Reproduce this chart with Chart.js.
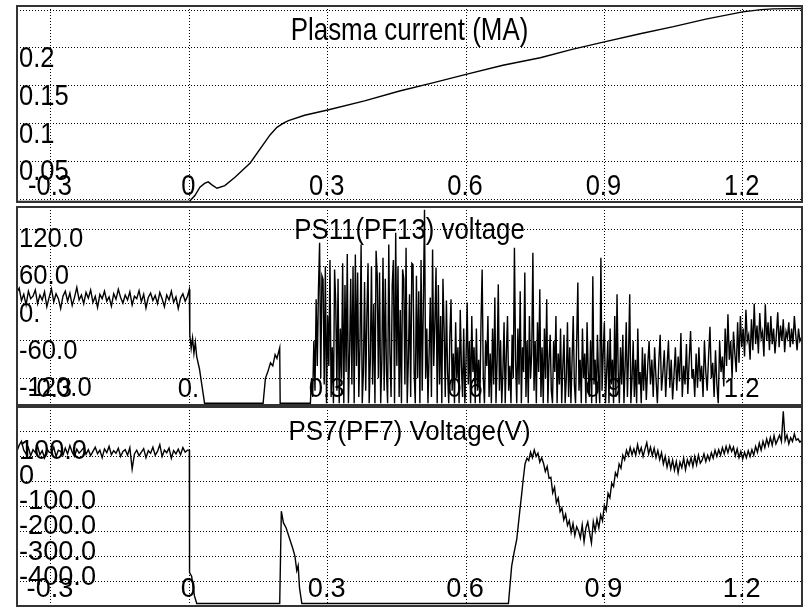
<!DOCTYPE html>
<html>
<head>
<meta charset="utf-8">
<title>Discharge waveforms</title>
<script src="https://cdn.jsdelivr.net/npm/chart.js@4.4.1/dist/chart.umd.min.js"></script>
<style>
  html, body { margin: 0; padding: 0; background: #fff; }
  body { width: 808px; height: 608px; position: relative; overflow: hidden; }
  canvas { position: absolute; left: 15px; }
</style>
</head>
<body>
<canvas id="ip" width="789" height="200" style="top:4px"></canvas>
<canvas id="ps11" width="789" height="202" style="top:205px"></canvas>
<canvas id="ps7" width="789" height="203" style="top:405px"></canvas>
<script>
// time axis (s)
var tMin = -0.3737, tMax = 1.3286;
var xTicks = [-0.3, 0, 0.3, 0.6, 0.9, 1.2];
var xLabels = ['-0.3', '0', '0.3', '0.6', '0.9', '1.2'];
var xLabelsDot = ['-0.3', '0.', '0.3', '0.6', '0.9', '1.2'];

// plasma current (MA)
var ipYTicks = [0.05, 0.1, 0.15, 0.2];
var ipYLabels = ['0.05', '0.1', '0.15', '0.2'];
var ipTime = [-0.374, 0, 0.012, 0.023, 0.033, 0.041, 0.049, 0.06, 0.077, 0.099, 0.132, 0.175, 0.19, 0.205, 0.215, 0.25,
  0.3, 0.38, 0.456, 0.53, 0.6, 0.68, 0.761, 0.83, 0.9, 0.98, 1.05, 1.12, 1.2, 1.24, 1.266, 1.3, 1.328];
var ipValue = [-0.003, -0.003, 0.005, 0.016, 0.021, 0.023, 0.019, 0.0146, 0.018, 0.029, 0.048, 0.085, 0.095, 0.101, 0.104, 0.111,
  0.118, 0.13, 0.143, 0.154, 0.165, 0.177, 0.187, 0.198, 0.208, 0.219, 0.228, 0.238, 0.2475, 0.2505, 0.2515, 0.2518, 0.252];

// PS11 (PF13) voltage
var ps11YTicks = [120, 60, 0, -60, -120];
var ps11YLabels = ['120.0', '60.0', '0.', '-60.0', '-120.0'];
var ps11PreStart = -0.374, ps11PreStep = 0.005;
var ps11Pre = [18, 25, 5, 15, -2, 20, 8, 12, 22, 0,
  14, 6, 19, -5, 10, 24, 3, 16, 8, -8,
  12, 20, 4, 17, -3, 10, 26, 6, 14, 0,
  18, 9, 22, 2, 12, -6, 15, 8, 20, 4,
  11, -4, 16, 7, 23, 10, 1, 14, 6, 19,
  -2, 12, 8, 21, 3, 15, -7, 10, 17, 5,
  13, 0, 18, 8, -5, 14, 6, 20, 2, 11,
  -8, 9, 16, 4, 12];
var ps11DropTime = [0, 0.001, 0.004, 0.007, 0.010, 0.013, 0.016, 0.022, 0.028, 0.033, 0.160, 0.165, 0.170, 0.176, 0.181, 0.186, 0.190, 0.196, 0.197, 0.255];
var ps11DropValue = [23, -50, -72, -55, -80, -62, -85, -105, -135, -160, -160, -120, -110, -95, -100, -82, -88, -71, -160, -160];
// chopping burst, 0.26 s to 0.9825 s
var ps11BurstStart = 0.26, ps11BurstStep = 0.0025;
var ps11Burst = [-160, -160, -120, -150, -60, -140, 7, -100, 23, 98,
  -120, 45, 39, -130, 60, -160, -20, -100, 70, -150,
  -70, -160, 55, 2, -140, 40, -160, -40, -120, 65,
  -160, 30, -110, 80, -160, -80, 40, -130, 60, -160,
  79, -100, 50, -150, -70, 95, -160, -110, 35, -140,
  -20, 65, -160, -90, 60, -130, 0, -160, 85, 45,
  -120, 50, -160, -90, 74, -140, 40, -110, -160, 95,
  -80, -150, 30, 70, -160, 114, -100, 60, -150, -10,
  -160, 55, 40, -130, 90, -160, -90, 15, -150, 65,
  63, -110, -160, 45, -120, 20, -160, 70, -140, 0,
  151, -120, -40, -160, -80, 10, -150, 87, -100, -30,
  58, -160, 30, -130, -20, -160, 40, -40, -150, 5,
  -110, -160, -50, 7, -140, -80, -160, -30, -120, -70,
  -160, -10, -100, -150, -40, -160, -90, 2, -130, -60,
  -160, -20, -110, -70, -160, -40, -140, -90, -160, -30,
  55, -120, -160, -60, -100, -20, -150, -80, -160, -40,
  -130, 10, -160, -90, 31, -140, -60, -160, -110, -30,
  -160, -80, -20, -140, -100, -160, -50, -120, 90, -90,
  -160, -40, -130, 20, -160, -70, -110, 50, -150, -60,
  -160, -20, -120, -80, 82, -140, -60, -160, -30, -110,
  23, -150, -70, -160, -40, -120, 7, -160, -90, -50,
  -140, -160, -60, -110, -20, -160, -80, -130, -40, -160,
  -100, -50, -160, -120, -30, -150, -70, -160, -90, -20,
  -130, -160, -60, 34, -140, -90, -160, -40, -120, -80,
  -160, -30, -110, -150, -60, -160, 44, -130, -90, -160,
  -50, -120, -160, 74, -140, -80, -30, -160, -110, -60,
  -160, -40, -130, -90, -160, -20, -150, 15, -110, -160,
  -70, -130, -50, -160, -100, -30, -150, -80, 15, -160,
  -120, -60, -150, -90, -160, -40, -130, -110, -160, -70];
// quieter tail, 0.985 s to the end
var ps11TailStart = 0.985, ps11TailStep = 0.003;
var ps11Tail = [-140, -80, -155, -100, -60, -130, -90, -150, -70, -120,
  -160, -95, -50, -140, -110, -75, -150, -100, -60, -135,
  -90, -154, -115, -70, -140, -85, -125, -47, -150, -100,
  -130, -65, -145, -90, -44, -120, -105, -150, -80, -135,
  -70, -125, -100, -150, -60, -110, -140, -85, -37, -120,
  -95, -150, -75, -130, -160, -60, -110, -85, -133, -40,
  -100, -17, -90, -60, -120, -45, -80, -110, -30, -95,
  -20, -70, -40, -85, -10, -60, -50, -90, -25, -75,
  0, -65, -35, -80, -15, -55, -45, -85, -1, -60,
  -30, -75, -20, -65, -40, -80, -50, -14, -70, -35,
  -60, -25, -78, -45, -55, -30, -70, -40, -65, -20,
  -50, -75, -40, -60, -55];

// PS7 (PF7) voltage (V)
var ps7YTicks = [100, 0, -100, -200, -300, -400];
var ps7YLabels = ['100.0', '0', '-100.0', '-200.0', '-300.0', '-400.0'];
var ps7PreStart = -0.374, ps7PreStep = 0.005;
var ps7Pre = [55, 80, 95, 60, 45, 70, 38, 62, 50, 75,
  42, 58, 30, 66, 52, 48, 72, 35, 60, 55,
  40, 68, 45, 78, 52, 36, 64, 48, 58, 70,
  44, 62, 38, 55, 72, 46, 60, 30, 65, 50,
  75, 42, 58, 48, 68, 35, 55, 62, 40, 70,
  -15, 45, 60, 38, 52, 66, 30, 58, 48, 72,
  40, 55, 82, 35, 60, 50, 68, 28, 58, 45,
  64, 42, 70, 52, 60];
var ps7StepTime = [0, 0.0005, 0.005, 0.011, 0.016, 0.196, 0.1995, 0.204, 0.210, 0.218, 0.224, 0.229, 0.233, 0.236, 0.239, 0.244,
  0.692, 0.699, 0.704, 0.710, 0.717, 0.721, 0.724];
var ps7StepValue = [60, -428, -442, -520, -551, -551, -183, -229, -250, -296, -330, -362, -420, -400, -490, -551,
  -551, -402, -350, -296, -176, -110, -57];
var ps7LateStart = 0.728, ps7LateStep = 0.004;
var ps7Late = [5, 28, 18, 52, 30, 61, 35, 48, 12, 30,
  8, -25, -5, -52, -48, -110, -88, -150, -131, -185,
  -170, -218, -195, -240, -221, -268, -232, -280, -245, -262,
  -290, -238, -305, -250, -226, -270, -310, -225, -262, -215,
  -250, -198, -222, -160, -180, -112, -130, -72, -85, -30,
  -45, 5, -12, 40, 22, 60, 38, 71, 42, 65,
  40, 82, 48, 70, 35, 64, 90, 45, 72, 38,
  68, 30, 58, 22, 50, 5, 35, -8, 25, -15,
  20, -20, 15, -30, 12, -10, 28, -18, 22, 0,
  30, -5, 35, 2, 40, 8, 20, 45, 15, 40,
  20, 50, 28, 60, 35, 62, 40, 70, 45, 75,
  50, 78, 55, 72, 38, 65, 30, 55, 25, 52,
  30, 58, 35, 62, 40, 75, 52, 88, 60, 95,
  70, 105, 78, 110, 80, 118, 85, 102, 120, 95,
  215, 98, 120, 85, 110, 95, 125, 100, 105, 92, 98];

function pairs(ts, vs) {
  return ts.map(function (t, i) { return {x: t, y: vs[i]}; });
}
function sampled(t0, dt, vs) {
  return vs.map(function (v, i) { return {x: t0 + i * dt, y: v}; });
}

var FONT = '"Liberation Sans", Arial, sans-serif';

// draws the scope-style labels inside the frame plus the panel border
function scopeText(cfg) {
  function put(ctx, s, px, py, size, sx, align) {
    ctx.save();
    ctx.font = size + 'px ' + FONT;
    ctx.textAlign = align;
    ctx.textBaseline = 'alphabetic';
    ctx.translate(px, py);
    ctx.scale(sx, 1);
    ctx.fillText(s, 0, 0);
    ctx.restore();
  }
  return {
    id: 'scopeText',
    beforeDatasetsDraw: function (chart) {
      var ctx = chart.ctx, a = chart.chartArea, x = chart.scales.x, y = chart.scales.y;
      ctx.save();
      ctx.fillStyle = '#000';
      cfg.yTicks.forEach(function (v, i) {
        put(ctx, cfg.yLabels[i], a.left + 2, y.getPixelForValue(v) + cfg.yShift, cfg.labelSize, cfg.labelScale, 'left');
      });
      xTicks.forEach(function (v, i) {
        put(ctx, cfg.xLabels[i], x.getPixelForValue(v) - 1, a.bottom - cfg.xDrop, cfg.labelSize, cfg.labelScale, 'center');
      });
      put(ctx, cfg.title, (a.left + a.right) / 2, a.top + cfg.titleDrop, cfg.titleSize, cfg.titleScale, 'center');
      ctx.restore();
    },
    afterDraw: function (chart) {
      var ctx = chart.ctx, a = chart.chartArea;
      ctx.save();
      ctx.strokeStyle = '#333';
      ctx.lineWidth = 2;
      ctx.strokeRect(a.left, a.top, a.right - a.left, a.bottom - a.top);
      ctx.restore();
    }
  };
}

function panel(id, data, yMin, yMax, yStep, text) {
  return new Chart(document.getElementById(id), {
    type: 'line',
    data: {
      datasets: [{
        data: data,
        borderColor: '#000',
        borderWidth: 1.4,
        pointRadius: 0,
        tension: 0,
        fill: false
      }]
    },
    options: {
      responsive: false,
      animation: false,
      parsing: false,
      normalized: true,
      layout: { padding: 2 },
      plugins: { legend: { display: false }, tooltip: { enabled: false } },
      scales: {
        x: {
          type: 'linear', min: tMin, max: tMax,
          ticks: { display: false, stepSize: 0.3, includeBounds: false },
          grid: { color: '#000', lineWidth: 1, drawTicks: false },
          border: { display: false, dash: [1, 2] }
        },
        y: {
          type: 'linear', min: yMin, max: yMax,
          ticks: { display: false, stepSize: yStep, includeBounds: false },
          grid: { color: '#000', lineWidth: 1, drawTicks: false },
          border: { display: false, dash: [1, 2] }
        }
      }
    },
    plugins: [scopeText(text)]
  });
}

panel('ip', pairs(ipTime, ipValue), -0.0036, 0.2553, 0.05, {
  title: 'Plasma current (MA)', titleSize: 32, titleScale: 0.81, titleDrop: 34,
  yTicks: ipYTicks, yLabels: ipYLabels, xLabels: xLabels,
  labelSize: 30, labelScale: 0.85, yShift: 19, xDrop: 7
});

panel('ps11', sampled(ps11PreStart, ps11PreStep, ps11Pre)
    .concat(pairs(ps11DropTime, ps11DropValue))
    .concat(sampled(ps11BurstStart, ps11BurstStep, ps11Burst))
    .concat(sampled(ps11TailStart, ps11TailStep, ps11Tail)), -162.9, 155.4, 60, {
  title: 'PS11(PF13) voltage', titleSize: 29, titleScale: 0.89, titleDrop: 32,
  yTicks: ps11YTicks, yLabels: ps11YLabels, xLabels: xLabelsDot,
  labelSize: 27, labelScale: 0.95, yShift: 18, xDrop: 8
});

panel('ps7', sampled(ps7PreStart, ps7PreStep, ps7Pre)
    .concat(pairs(ps7StepTime, ps7StepValue))
    .concat(sampled(ps7LateStart, ps7LateStep, ps7Late)), -561, 232, 100, {
  title: 'PS7(PF7) Voltage(V)', titleSize: 27, titleScale: 0.96, titleDrop: 33,
  yTicks: ps7YTicks, yLabels: ps7YLabels, xLabels: xLabels,
  labelSize: 28, labelScale: 0.97, yShift: 19, xDrop: 9
});
</script>
</body>
</html>
